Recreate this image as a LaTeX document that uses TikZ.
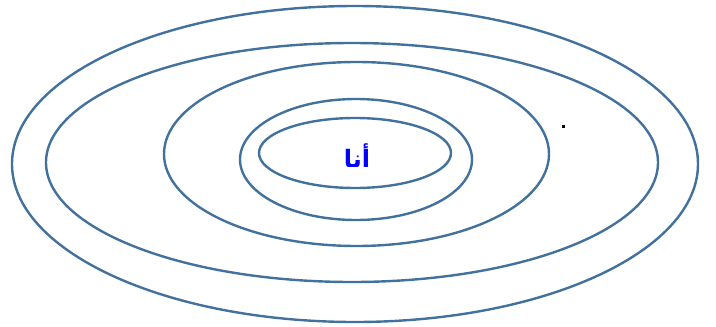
\documentclass[tikz,border=0pt]{standalone}
\usepackage{fontspec}
\newfontfamily\arabicfont[Script=Arabic]{DejaVu Sans}
\TeXXeTstate=1
\usepackage{tikz}
\definecolor{ringblue}{RGB}{65,113,156}

\begin{document}
\begin{tikzpicture}[x=1pt, y=-1pt,
 ring/.style={draw=ringblue, line width=2.4pt},
 me/.style={font=\arabicfont\bfseries\fontsize{24}{24}\selectfont, text=blue, inner sep=0pt}]
\useasboundingbox (0,0) rectangle (716,327);
% rings, outer to inner
\draw[ring] (355,164) ellipse [x radius=343, y radius=158];
\draw[ring] (352,162.5) ellipse [x radius=306, y radius=119.5];
\draw[ring] (356.5,154) ellipse [x radius=192.5, y radius=92];
\draw[ring] (356,159.5) ellipse [x radius=116, y radius=60.5];
\draw[ring] (355,153) ellipse [x radius=96, y radius=35];
\node[me] (self) at (357,156) {\beginR أنا\endR};
\fill (561.5,124.5) rectangle (564.5,127.5);
\end{tikzpicture}
\end{document}
